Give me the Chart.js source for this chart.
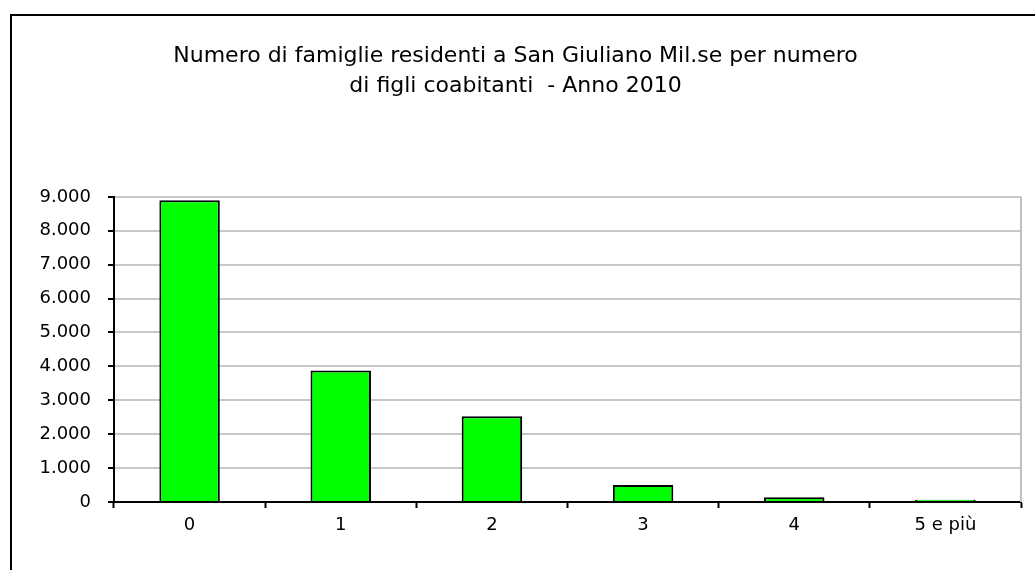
<!DOCTYPE html>
<html>
<head>
<meta charset="utf-8">
<script src="https://cdn.jsdelivr.net/npm/chart.js@4"></script>
<style>
  html, body { margin: 0; padding: 0; background: #fff; }
  #wrap { position: relative; width: 1035px; height: 570px; }
</style>
</head>
<body>
<div id="wrap"><canvas id="myChart" width="1035" height="570"></canvas></div>
<script>
var categories = ['0', '1', '2', '3', '4', '5 e più'];
var famiglie = [8900, 3880, 2530, 500, 140, 70];
var yTicks = [0, 1000, 2000, 3000, 4000, 5000, 6000, 7000, 8000, 9000];
var titolo = ['Numero di famiglie residenti a San Giuliano Mil.se per numero', 'di figli coabitanti  - Anno 2010'];

var FONT = 'DejaVu Sans';

function puntini(v) {
  return String(v).replace(/\B(?=(\d{3})+(?!\d))/g, '.');
}

// outer frame + grey right border of the plot
var cornice = {
  id: 'cornice',
  beforeDraw: function(chart) {
    var c = chart.ctx;
    c.save();
    c.fillStyle = '#fff';
    c.fillRect(0, 0, chart.width, chart.height);
    c.strokeStyle = '#000';
    c.lineWidth = 2;
    c.beginPath();
    c.moveTo(11, 580);
    c.lineTo(11, 15);
    c.lineTo(1040, 15);
    c.stroke();
    c.restore();
  },
  afterDatasetsDraw: function(chart) {
    var a = chart.chartArea, c = chart.ctx;
    c.save();
    c.strokeStyle = '#c0c0c0';
    c.lineWidth = 2;
    c.beginPath();
    c.moveTo(a.right, a.top);
    c.lineTo(a.right, a.bottom);
    c.stroke();
    c.restore();
  }
};

var ctx = document.getElementById('myChart').getContext('2d');
var myChart = new Chart(ctx, {
  type: 'bar',
  data: {
    labels: categories,
    datasets: [{
      data: famiglie,
      backgroundColor: '#00ff00',
      borderColor: '#000000',
      borderWidth: 2,
      categoryPercentage: 1.0,
      barPercentage: 0.4
    }]
  },
  plugins: [cornice],
  options: {
    responsive: false,
    animation: false,
    devicePixelRatio: 1,
    layout: { padding: { left: 10, right: 14, top: 0, bottom: 0 } },
    plugins: {
      legend: { display: false },
      tooltip: { enabled: false },
      title: {
        display: true,
        text: titolo,
        color: '#000',
        font: { family: FONT, size: 22, weight: 'normal', lineHeight: 1.36 },
        padding: { top: 41, bottom: 96 }
      }
    },
    scales: {
      x: {
        grid: {
          offset: true,
          drawOnChartArea: false,
          drawTicks: true,
          tickLength: 6,
          tickColor: '#000',
          tickWidth: 2
        },
        border: { color: '#000', width: 2 },
        ticks: { color: '#000', font: { family: FONT, size: 18 }, padding: 7, maxRotation: 0 },
        afterFit: function(s) { s.height = 68; }
      },
      y: {
        min: 0,
        max: 9000,
        afterBuildTicks: function(s) { s.ticks = yTicks.map(function(v) { return { value: v }; }); },
        grid: {
          color: '#c8c8c8',
          lineWidth: 2,
          drawTicks: true,
          tickLength: 6,
          tickColor: '#000',
          tickWidth: 2
        },
        border: { color: '#000', width: 2 },
        ticks: {
          color: '#000',
          font: { family: FONT, size: 18 },
          padding: 17,
          callback: function(v) { return puntini(v); }
        },
        afterFit: function(s) { s.width = 104; }
      }
    }
  }
});
</script>
</body>
</html>
